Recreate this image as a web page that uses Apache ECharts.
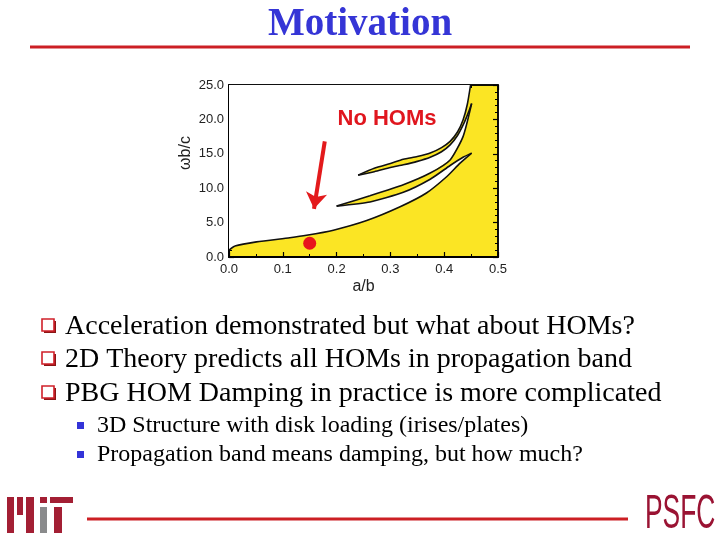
<!DOCTYPE html>
<html><head><meta charset="utf-8">
<script src="https://cdn.jsdelivr.net/npm/echarts/dist/echarts.min.js"></script>
<style>html,body{margin:0;padding:0;background:#fff}#c{width:720px;height:540px}</style>
</head><body><div id="c"></div>
<script>
// ---- data (a/b , omega b/c) ----
const fundA = [0, 0.011, 0.051, 0.113, 0.144, 0.194, 0.256, 0.318, 0.367, 0.405, 0.429, 0.451];
const fundW = [1.0, 1.6, 2.2, 2.8, 3.15, 3.9, 5.3, 7.3, 9.3, 11.7, 13.6, 15.1];
const lens1LowA = [0.2, 0.262, 0.324, 0.374, 0.411, 0.435, 0.451];
const lens1LowW = [7.4, 8.0, 9.4, 11.3, 13.3, 14.5, 15.1];
const lens1UpA = [0.2, 0.262, 0.324, 0.374, 0.411, 0.435, 0.451];
const lens1UpW = [7.4, 8.9, 10.5, 12.2, 14.1, 17.5, 22.3];
const lens2LowA = [0.24, 0.27, 0.30, 0.324, 0.35, 0.374, 0.395, 0.411, 0.425, 0.437, 0.446, 0.451];
const lens2LowW = [11.9, 12.4, 13.0, 13.4, 13.9, 14.5, 15.3, 16.3, 17.7, 19.5, 21.2, 22.3];
const lens2UpA = [0.24, 0.27, 0.30, 0.324, 0.35, 0.374, 0.395, 0.411, 0.425, 0.435, 0.443, 0.449];
const lens2UpW = [11.9, 12.9, 13.6, 14.2, 14.6, 15.1, 15.9, 16.8, 18.2, 19.9, 22.2, 25.0];
const dotA = [0.150];
const dotW = [2.0];
const arrowFrom = [0.178, 16.8];
const arrowTo = [0.158, 7.0];
const xMin = 0, xMax = 0.5, xStep = 0.1;
const yMin = 0, yMax = 25, yStep = 5;

const titleText = 'Motivation';
const bullets = [
  'Acceleration demonstrated but what about HOMs?',
  '2D Theory predicts all HOMs in propagation band',
  'PBG HOM Damping in practice is more complicated'
];
const subBullets = [
  '3D Structure with disk loading (irises/plates)',
  'Propagation band means damping, but how much?'
];

// ---- helpers ----
const pairs = (a, w) => a.map((v, i) => [v, w[i]]);
const rev = arr => arr.slice().reverse();
const whitePoly = [].concat(
  [[xMin, yMax]],
  pairs(fundA, fundW),
  rev(pairs(lens1LowA, lens1LowW)).slice(1),
  pairs(lens1UpA, lens1UpW).slice(1),
  rev(pairs(lens2LowA, lens2LowW)).slice(1),
  pairs(lens2UpA, lens2UpW).slice(1)
);

const YELLOW = '#fbe524';
const lineSeries = (d) => ({
  type: 'line', data: d, showSymbol: false, symbol: 'none', smooth: 0.2,
  lineStyle: { color: '#111', width: 1.6 }, z: 3, silent: true
});

const axisCommon = {
  type: 'value', splitLine: { show: false },
  axisLine: { show: true, onZero: false, lineStyle: { color: '#000', width: 2 } },
  axisTick: { show: true, inside: true, length: 5, lineStyle: { color: '#000', width: 1.2 } },
  minorTick: { show: true, length: 3, lineStyle: { color: '#000', width: 1 } },
  minorSplitLine: { show: false }
};
const thinLine = { show: true, onZero: false, lineStyle: { color: '#000', width: 1.5 } };

const graphics = [];
graphics.push({ type: 'text', left: 'center', top: 5, z: 100, style: { text: titleText, font: 'bold 39px "Liberation Serif"', fill: '#3535d6' } });
graphics.push({ type: 'rect', z: 100, shape: { x: 30, y: 45.5, width: 660, height: 3 }, style: { fill: '#cc1f24' } });
graphics.push({ type: 'rect', z: 100, shape: { x: 87, y: 517.5, width: 541, height: 3 }, style: { fill: '#cc1f24' } });
// "No HOMs"
graphics.push({ type: 'text', x: 387, y: 119, z: 100, style: { text: 'No HOMs', font: 'bold 22px "Liberation Sans"', fill: '#e0161e', textAlign: 'center', textVerticalAlign: 'middle' } });
// axis name omega b/c
graphics.push({ type: 'text', x: 186, y: 153, z: 100, rotation: Math.PI / 2, style: { text: 'ωb/c', font: '16px "Liberation Sans"', fill: '#222', textAlign: 'center', textVerticalAlign: 'middle' } });
// bullets
const bY = [327, 360, 394];
bullets.forEach((t, i) => {
  graphics.push({ type: 'rect', z: 100, shape: { x: 44, y: bY[i] - 6, width: 12, height: 12 }, style: { fill: '#8b1515' } });
  graphics.push({ type: 'rect', z: 101, shape: { x: 42, y: bY[i] - 8, width: 12, height: 12 }, style: { fill: '#fff', stroke: '#d0202a', lineWidth: 1.6 } });
  graphics.push({ type: 'text', z: 100, x: 65, y: bY[i], style: { text: t, font: '28px "Liberation Serif"', fill: '#000', textVerticalAlign: 'middle' } });
});
const sY = [426, 455];
subBullets.forEach((t, i) => {
  graphics.push({ type: 'rect', z: 100, shape: { x: 77, y: sY[i] - 4, width: 7, height: 7 }, style: { fill: '#3434d8' } });
  graphics.push({ type: 'text', z: 100, x: 97, y: sY[i], style: { text: t, font: '24px "Liberation Serif"', fill: '#000', textVerticalAlign: 'middle' } });
});
// MIT logo (bars)
const MITRED = '#a31f34';
[[7, 497, 7, 36, MITRED], [17, 497, 6, 18, MITRED], [26, 497, 8, 36, MITRED], [40, 497, 7, 6, MITRED],
 [40, 507, 7, 26, '#8a8b8c'], [50, 497, 23, 6, MITRED], [54, 507, 8, 26, MITRED]].forEach(r => {
  graphics.push({ type: 'rect', z: 100, shape: { x: r[0], y: r[1], width: r[2], height: r[3] }, style: { fill: r[4] } });
});
// PSFC logo text
graphics.push({ type: 'text', z: 100, x: 645, y: 515, scaleX: 0.55, style: { text: 'PSFC', font: '48px "Liberation Sans"', fill: '#9a1333', textVerticalAlign: 'middle' } });

const option = {
  backgroundColor: '#fff',
  animation: false,
  grid: { left: 229, right: 222, top: 85, bottom: 283, show: true, backgroundColor: YELLOW, borderColor: '#000', borderWidth: 1.5 },
  xAxis: [
    Object.assign({}, axisCommon, {
      min: xMin, max: xMax, interval: xStep, position: 'bottom',
      minorTick: Object.assign({}, axisCommon.minorTick, { splitNumber: 2 }),
      axisLabel: { formatter: v => v.toFixed(1), color: '#222', fontFamily: 'Liberation Sans', fontSize: 13, margin: 6 },
      name: 'a/b', nameLocation: 'middle', nameGap: 22,
      nameTextStyle: { color: '#222', fontFamily: 'Liberation Sans', fontSize: 16 }
    }),
    Object.assign({}, axisCommon, {
      min: xMin, max: xMax, interval: xStep, position: 'top',
      axisLine: thinLine,
      minorTick: Object.assign({}, axisCommon.minorTick, { splitNumber: 2 }),
      axisLabel: { show: false }
    })
  ],
  yAxis: [
    Object.assign({}, axisCommon, {
      min: yMin, max: yMax, interval: yStep, position: 'left',
      minorTick: Object.assign({}, axisCommon.minorTick, { splitNumber: 5 }),
      axisLabel: { formatter: v => v.toFixed(1), color: '#222', fontFamily: 'Liberation Sans', fontSize: 13, margin: 5 }
    }),
    Object.assign({}, axisCommon, {
      min: yMin, max: yMax, interval: yStep, position: 'right',
      axisLine: thinLine,
      minorTick: Object.assign({}, axisCommon.minorTick, { splitNumber: 5 }),
      axisLabel: { show: false }
    })
  ],
  series: [
    {
      type: 'custom', data: [[0, 0]], silent: true, z: 1, clip: true,
      renderItem: (params, api) => ({
        type: 'polygon',
        shape: { points: whitePoly.map(p => api.coord(p)) },
        style: { fill: '#ffffff' }
      })
    },
    lineSeries(pairs(fundA, fundW)),
    lineSeries(pairs(lens1LowA, lens1LowW)),
    lineSeries(pairs(lens1UpA, lens1UpW)),
    lineSeries(pairs(lens2LowA, lens2LowW)),
    lineSeries(pairs(lens2UpA, lens2UpW)),
    {
      type: 'scatter', data: pairs(dotA, dotW), symbolSize: 13, z: 5,
      itemStyle: { color: '#e8141c', opacity: 1 }, silent: true,
      markLine: {
        silent: true, symbol: ['none', 'arrow'], symbolSize: 16, label: { show: false },
        lineStyle: { color: '#e31a1c', width: 4, type: 'solid', opacity: 1 },
        data: [[{ coord: arrowFrom }, { coord: arrowTo }]]
      }
    }
  ],
  graphic: graphics
};
const chart = echarts.init(document.getElementById('c'));
chart.setOption(option);
</script></body></html>
